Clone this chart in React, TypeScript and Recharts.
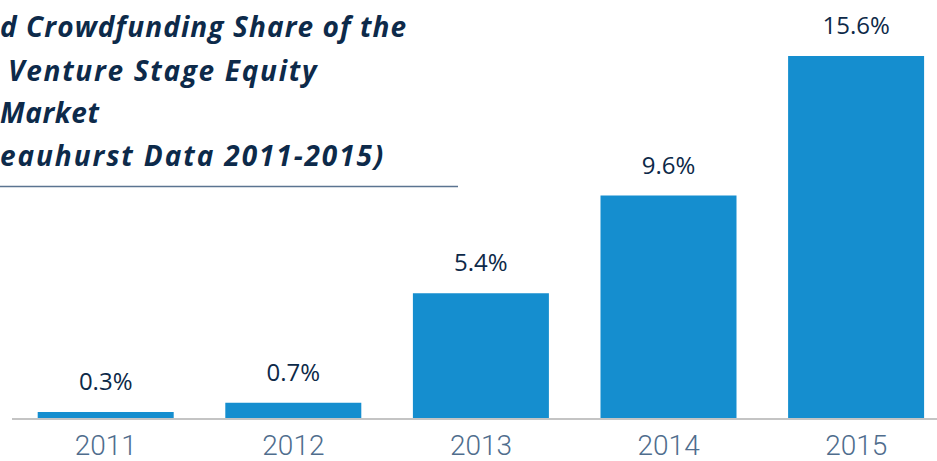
import React from 'react';
import { BarChart, Bar, XAxis, YAxis, LabelList } from 'recharts';

const years = ['2011', '2012', '2013', '2014', '2015'];
const shares = [0.3, 0.7, 5.4, 9.6, 15.6];
const titleLines = [
  'd Crowdfunding Share of the',
  'Venture Stage Equity',
  'Market',
  'eauhurst Data 2011-2015)',
];

const data = years.map((y, i) => ({ year: y, share: shares[i] }));

const titleX = [0, 8, 0, 0];
const titleY = [37, 81, 123, 166];
const titleSpacing = [1.1, 1.7, 0.6, 1.9];

export default function App() {
  return (
    <div style={{ position: 'fixed', left: 0, top: 0, width: 937, height: 461, overflow: 'hidden', background: '#fff' }}>
      <BarChart
        width={962}
        height={461}
        data={data}
        margin={{ top: 56, right: 12, bottom: 0, left: 12 }}
        barCategoryGap="13.7%"
      >
        <XAxis
          dataKey="year"
          axisLine={{ stroke: '#c4c4c4', strokeWidth: 2 }}
          tickLine={false}
          tickSize={0}
          tickMargin={16}
          height={42}
          tick={{ fill: '#4f6d8d', fontSize: 28, fontFamily: 'Roboto', fontWeight: 300 }}
        />
        <YAxis hide domain={[0, 15.6]} />
        <Bar dataKey="share" fill="#158ecf" isAnimationActive={false}>
          <LabelList
            dataKey="share"
            position="top"
            offset={22}
            formatter={(v: number) => `${v.toFixed(1)}%`}
            style={{ fill: '#0d2948', fontSize: 24, fontFamily: 'Open Sans', fontWeight: 500 }}
          />
        </Bar>
      </BarChart>
      <svg width={937} height={200} style={{ position: 'absolute', left: 0, top: 0 }}>
        {titleLines.map((t, i) => (
          <text
            key={i}
            x={titleX[i]}
            y={titleY[i]}
            fill="#0d2a4a"
            fontFamily="Open Sans"
            fontWeight={700}
            fontStyle="italic"
            fontSize={28}
            letterSpacing={titleSpacing[i]}
          >
            {t}
          </text>
        ))}
        <line x1={0} y1={186.5} x2={458} y2={186.5} stroke="#5b7491" strokeWidth={1.5} />
      </svg>
    </div>
  );
}
